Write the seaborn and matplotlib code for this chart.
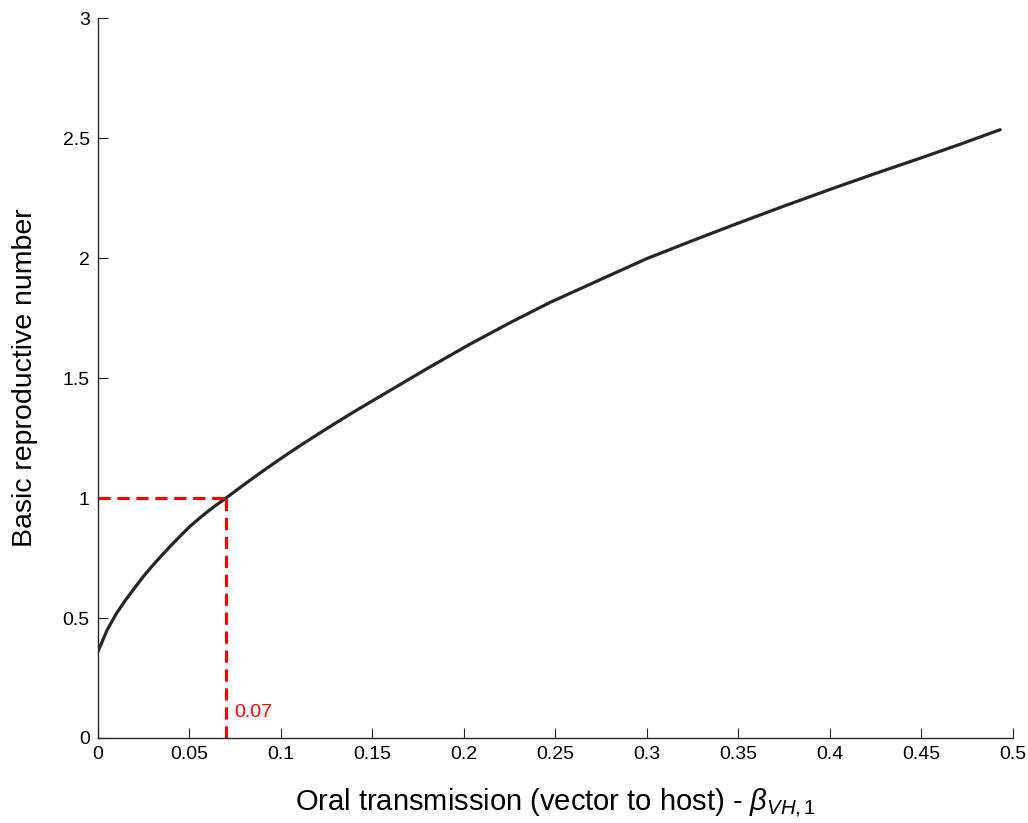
import matplotlib
matplotlib.use("Agg")
import matplotlib.pyplot as plt
import seaborn as sns
import pandas as pd

# Data
beta_vh1 = [0, 0.005, 0.01, 0.015, 0.02, 0.025, 0.03, 0.035, 0.04, 0.045, 0.05,
            0.055, 0.06, 0.065, 0.07, 0.08, 0.09, 0.10, 0.11, 0.12, 0.13, 0.14,
            0.16, 0.18, 0.203, 0.225, 0.247, 0.275, 0.30, 0.325, 0.35, 0.375,
            0.40, 0.425, 0.45, 0.471, 0.493]
r0_values = [0.36, 0.45, 0.518, 0.574, 0.625, 0.675, 0.72, 0.762, 0.803, 0.842, 0.88,
             0.913, 0.944, 0.973, 1.0, 1.057, 1.112, 1.165, 1.216, 1.265, 1.313, 1.36,
             1.45, 1.54, 1.64, 1.73, 1.815, 1.912, 1.998, 2.073, 2.146, 2.217,
             2.286, 2.353, 2.418, 2.474, 2.535]
threshold_x = 0.07
threshold_y = 1.0
threshold_label = "0.07"
x_ticks = [0, 0.05, 0.1, 0.15, 0.2, 0.25, 0.3, 0.35, 0.4, 0.45, 0.5]
x_tick_labels = ["0", "0.05", "0.1", "0.15", "0.2", "0.25", "0.3", "0.35", "0.4", "0.45", "0.5"]
y_ticks = [0, 0.5, 1, 1.5, 2, 2.5, 3]
y_tick_labels = ["0", "0.5", "1", "1.5", "2", "2.5", "3"]

sns.set_theme(style="ticks")
plt.rcParams["font.family"] = ["Liberation Sans", "DejaVu Sans"]
plt.rcParams["mathtext.fontset"] = "custom"
plt.rcParams["mathtext.it"] = "Liberation Sans:italic"
plt.rcParams["mathtext.rm"] = "Liberation Sans"
plt.rcParams["mathtext.bf"] = "Liberation Sans:bold"

fig = plt.figure(figsize=(10.28, 8.23), dpi=100)
ax = fig.add_axes([0.0953, 0.1033, 0.8901, 0.8747])

df = pd.DataFrame({"beta": beta_vh1, "R0": r0_values})
sns.lineplot(data=df, x="beta", y="R0", ax=ax, color="#262626", linewidth=2.3,
             estimator=None, sort=True)

ax.plot([0, threshold_x], [threshold_y, threshold_y], color="red", linestyle=(0, (4, 2.2)),
        linewidth=2.2)
ax.plot([threshold_x, threshold_x], [0, threshold_y], color="red", linestyle=(0, (4, 2.2)),
        linewidth=2.2)
ax.text(threshold_x + 0.0045, 0.07, threshold_label, color="red", fontsize=14,
        ha="left", va="bottom")

ax.set_xlim(0, 0.5)
ax.set_ylim(0, 3)
ax.set_xticks(x_ticks)
ax.set_xticklabels(x_tick_labels)
ax.set_yticks(y_ticks)
ax.set_yticklabels(y_tick_labels)
ax.tick_params(axis="both", direction="in", length=7, width=0.8, labelsize=14,
               color="#262626", labelcolor="black", pad=6)

ax.set_xlabel(r"Oral transmission (vector to host) - $\beta_{\mathit{VH,1}}$", fontsize=21,
              labelpad=16, color="black")
ax.set_ylabel("Basic reproductive number", fontsize=20.5, labelpad=18, color="black")

for side in ["top", "right"]:
    ax.spines[side].set_visible(False)
for side in ["left", "bottom"]:
    ax.spines[side].set_color("#262626")
    ax.spines[side].set_linewidth(1.0)

fig.savefig("out.png", dpi=100)
